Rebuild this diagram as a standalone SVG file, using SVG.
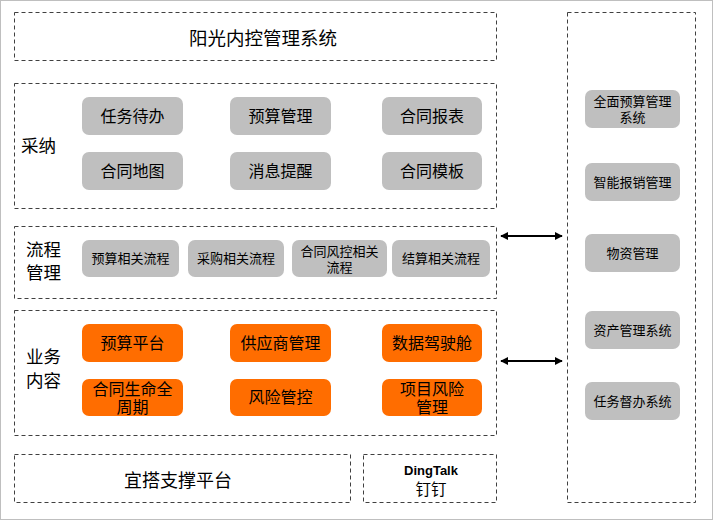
<svg xmlns="http://www.w3.org/2000/svg" width="713" height="520" viewBox="0 0 713 520">
<defs>
<marker id="ah" viewBox="0 0 10 10" refX="9" refY="5" markerWidth="8" markerHeight="8" orient="auto-start-reverse" markerUnits="userSpaceOnUse"><path d="M0,0 L10,5 L0,10 z" fill="#000"/></marker>
<style>
text{font-family:"Liberation Sans","Noto Sans CJK SC",sans-serif;fill:#000;text-anchor:middle;dominant-baseline:central}
.dash{fill:#fff;stroke:#404040;stroke-width:1;stroke-dasharray:4,3}
.g{fill:#BFBFBF}
.o{fill:#FF6D00}
.t15{font-size:16px}
.t13{font-size:13px}
.t12{font-size:13px}
.lab{font-size:17.5px;text-anchor:start}
</style>
</defs>
<rect x="0.5" y="0.5" width="712" height="519" fill="#fff" stroke="#BFBFBF"/>
<g id="title"><rect class="dash" x="14.5" y="12.5" width="482" height="48"/><text x="263" y="38" style="font-size:18.5px">阳光内控管理系统</text></g>
<g id="caina"><rect class="dash" x="14.5" y="83.5" width="482" height="125"/><text class="lab" x="21" y="146">采纳</text></g>
<g id="n1"><rect class="g" x="82" y="97" width="101" height="38" rx="7"/><text class="t15" x="132.5" y="116">任务待办</text></g>
<g id="n2"><rect class="g" x="230" y="97" width="101" height="38" rx="7"/><text class="t15" x="280.5" y="116">预算管理</text></g>
<g id="n3"><rect class="g" x="382" y="97" width="100" height="38" rx="7"/><text class="t15" x="432" y="116">合同报表</text></g>
<g id="n4"><rect class="g" x="82" y="152" width="101" height="38" rx="7"/><text class="t15" x="132.5" y="171">合同地图</text></g>
<g id="n5"><rect class="g" x="230" y="152" width="101" height="38" rx="7"/><text class="t15" x="280.5" y="171">消息提醒</text></g>
<g id="n6"><rect class="g" x="382" y="152" width="100" height="38" rx="7"/><text class="t15" x="432" y="171">合同模板</text></g>
<g id="liucheng"><rect class="dash" x="14.5" y="226.5" width="482" height="72"/><text class="lab" x="26" y="250">流程</text><text class="lab" x="26" y="273">管理</text></g>
<g id="p1"><rect class="g" x="82" y="240" width="97" height="37" rx="7"/><text class="t13" x="130.5" y="258.5">预算相关流程</text></g>
<g id="p2"><rect class="g" x="188" y="240" width="96" height="37" rx="7"/><text class="t13" x="236" y="258.5">采购相关流程</text></g>
<g id="p3"><rect class="g" x="292" y="240" width="95" height="37" rx="7"/><text class="t13" x="339.5" y="251">合同风控相关</text><text class="t13" x="339.5" y="267">流程</text></g>
<g id="p4"><rect class="g" x="392" y="240" width="98" height="37" rx="7"/><text class="t13" x="441" y="258.5">结算相关流程</text></g>
<g id="yewu"><rect class="dash" x="14.5" y="310.5" width="482" height="125"/><text class="lab" x="26" y="357">业务</text><text class="lab" x="26" y="381">内容</text></g>
<g id="b1"><rect class="o" x="82" y="324" width="101" height="38" rx="7"/><text class="t15" x="132.5" y="343">预算平台</text></g>
<g id="b2"><rect class="o" x="230" y="324" width="101" height="38" rx="7"/><text class="t15" x="280.5" y="343">供应商管理</text></g>
<g id="b3"><rect class="o" x="382" y="324" width="100" height="38" rx="7"/><text class="t15" x="432" y="343">数据驾驶舱</text></g>
<g id="b4"><rect class="o" x="82" y="379" width="101" height="37" rx="7"/><text class="t15" x="132.5" y="389">合同生命全</text><text class="t15" x="132.5" y="407">周期</text></g>
<g id="b5"><rect class="o" x="230" y="379" width="101" height="37" rx="7"/><text class="t15" x="280.5" y="397.5">风险管控</text></g>
<g id="b6"><rect class="o" x="382" y="379" width="100" height="37" rx="7"/><text class="t15" x="432" y="389">项目风险</text><text class="t15" x="432" y="407">管理</text></g>
<g id="yida"><rect class="dash" x="14.5" y="454.5" width="336" height="48"/><text x="178" y="481" style="font-size:18px">宜搭支撑平台</text></g>
<g id="dingtalk"><rect class="dash" x="363.5" y="454.5" width="133" height="48"/><text x="431" y="470" style="font-size:13px;font-weight:bold">DingTalk</text><text x="431" y="489" style="font-size:15.5px">钉钉</text></g>
<g id="right"><rect class="dash" x="567.5" y="12.5" width="128" height="490"/></g>
<g id="r1"><rect class="g" x="585" y="90" width="95" height="38" rx="7"/><text class="t12" x="632.5" y="101">全面预算管理</text><text class="t12" x="632.5" y="117">系统</text></g>
<g id="r2"><rect class="g" x="585" y="163" width="95" height="38" rx="7"/><text class="t12" x="632.5" y="182">智能报销管理</text></g>
<g id="r3"><rect class="g" x="585" y="234" width="95" height="38" rx="7"/><text class="t12" x="632.5" y="253">物资管理</text></g>
<g id="r4"><rect class="g" x="585" y="311" width="95" height="38" rx="7"/><text class="t12" x="632.5" y="330">资产管理系统</text></g>
<g id="r5"><rect class="g" x="585" y="382" width="95" height="38" rx="7"/><text class="t12" x="632.5" y="401">任务督办系统</text></g>
<g id="connectors" stroke="#000" stroke-width="2" fill="none">
<line x1="501" y1="236" x2="562" y2="236" marker-start="url(#ah)" marker-end="url(#ah)"/>
<line x1="501" y1="361" x2="562" y2="361" marker-start="url(#ah)" marker-end="url(#ah)"/>
</g>
</svg>
